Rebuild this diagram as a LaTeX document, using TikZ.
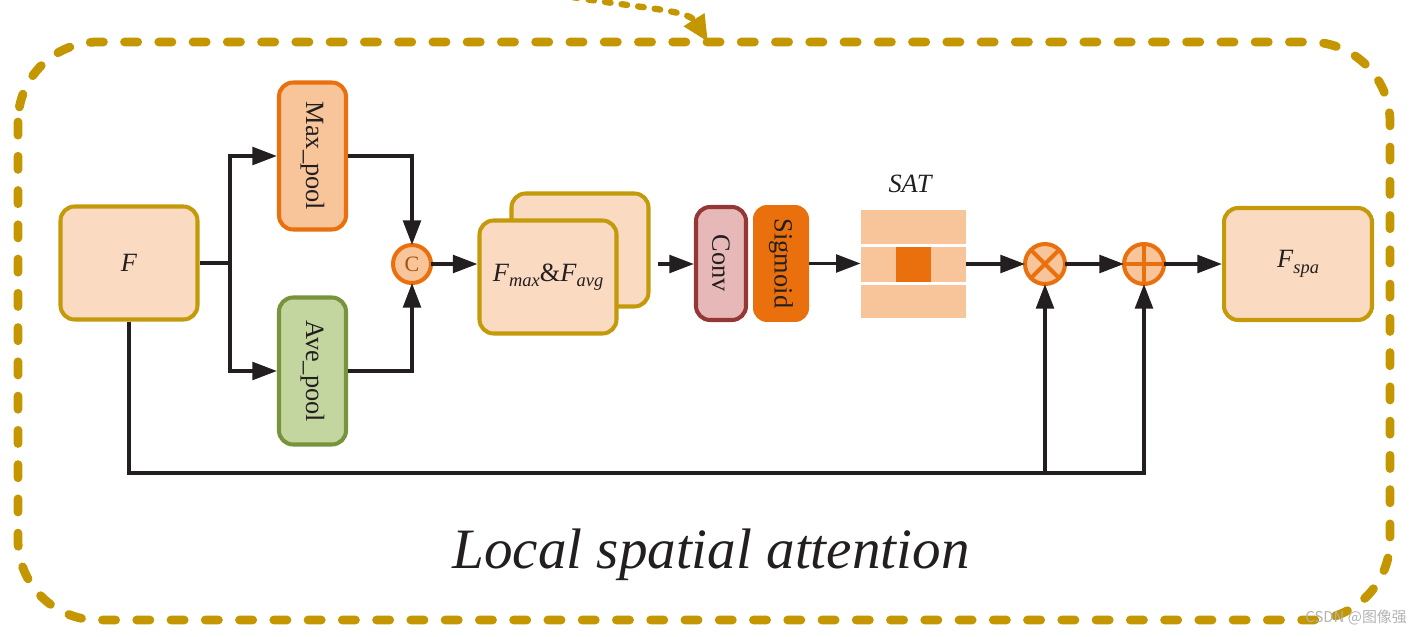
\documentclass[tikz,border=0pt]{standalone}
\usepackage{fontspec}
\setmainfont{Liberation Serif}
\newfontfamily\cjkfont{Noto Sans CJK SC}
\usetikzlibrary{arrows.meta}
\definecolor{gold}{HTML}{C49600}
\definecolor{boxgold}{HTML}{C49A0A}
\definecolor{peach}{HTML}{FADAC0}
\definecolor{lorange}{HTML}{F8C59B}
\definecolor{dorange}{HTML}{EA700E}
\definecolor{lgreen}{HTML}{C4D6A0}
\definecolor{dgreen}{HTML}{77933C}
\definecolor{lpink}{HTML}{E6B9B8}
\definecolor{dred}{HTML}{953735}
\definecolor{ink}{HTML}{231F20}
\definecolor{cbrown}{HTML}{A3520C}
\newcommand{\mysub}[1]{\raisebox{-0.45ex}{\fontsize{10.5}{10.5}\selectfont\itshape #1}}
\tikzset{
  fbox/.style={draw=boxgold, fill=peach, line width=2.3pt, rounded corners=0.28cm,
    minimum width=2.74cm, minimum height=2.26cm, inner sep=0pt, text=ink,
    font=\fontsize{15}{18}\selectfont},
  poolbox/.style={line width=2.3pt, rounded corners=0.28cm, rotate=-90,
    minimum width=2.94cm, minimum height=1.34cm, inner sep=0pt, text=ink,
    font=\fontsize{15}{18}\selectfont},
  opnode/.style={circle, draw=dorange, fill=lorange, line width=2.3pt,
    minimum size=0.8cm, inner sep=0pt, outer sep=0pt},
  arr/.style={draw=ink, line width=2.1pt, -{Triangle[length=14pt,width=10pt]}},
  ln/.style={draw=ink, line width=2.1pt},
}
\begin{document}
\begin{tikzpicture}[x=0.02cm,y=-0.02cm]
\useasboundingbox (0,0) rectangle (1427,636);
% outer dashed border
\draw[gold, line width=5pt, line cap=round, dash pattern=on 7.5pt off 12pt,
  rounded corners=1.6cm] (18,42) rectangle (1390,620);
% incoming dotted arrow
\coordinate (topin) at (572,-3);
\coordinate (topend) at (708,42);
\draw[gold, line width=3.6pt, line cap=round, dash pattern=on 3.2pt off 6.3pt,
  -{Triangle[length=15pt,width=13pt]}] (topin) .. controls (640,8) and (688,10) .. (topend);

% nodes
\node[fbox] (F) at (129,263) {\textit{F}};
\node[poolbox, draw=dorange, fill=lorange] (Max) at (312.5,156) {Max\_pool};
\node[poolbox, draw=dgreen, fill=lgreen] (Ave) at (312.5,371) {Ave\_pool};
\node[opnode, minimum size=0.76cm, text=cbrown, font=\fontsize{12.5}{14}\selectfont] (C) at (412,264) {C};
\node[fbox] (back) at (580,250) {};
\node[fbox] (front) at (548,277) {\textit{F}\mysub{max}\&\textit{F}\mysub{avg}};
\node[poolbox, draw=dred, fill=lpink, minimum width=2.26cm, minimum height=1.0cm] (Conv) at (721,263.5) {Conv};
\node[poolbox, fill=dorange, minimum width=2.34cm, minimum height=1.12cm, line width=0pt] (Sig) at (781,263.5) {Sigmoid};
% SAT
\node[minimum width=2.1cm, minimum height=2.16cm, inner sep=0pt] (SAT) at (913.5,264) {};
\fill[lorange] (861,210) rectangle (966,244);
\fill[lorange] (861,247) rectangle (966,282);
\fill[lorange] (861,285) rectangle (966,318);
\fill[dorange] (896,247) rectangle (931,282);
\node[text=ink, font=\fontsize{15}{18}\selectfont\itshape] (SATl) at (910,184) {SAT};
\node[opnode] (mul) at (1045,264) {};
\draw[dorange, line width=2.3pt] (mul.north west) -- (mul.south east) (mul.north east) -- (mul.south west);
\node[opnode] (add) at (1144,264) {};
\draw[dorange, line width=2.3pt] (add.north) -- (add.south) (add.west) -- (add.east);
\node[fbox, minimum width=2.96cm, minimum height=2.24cm] (Fspa) at (1298,264) {\textit{F}\mysub{spa}};

% connectors
\coordinate (j1) at (230,263);
\draw[ln] (F.east) -- (j1);
\draw[arr] (j1) |- (Max.south);
\draw[arr] (j1) |- (Ave.south);
\draw[arr] (Max.north) -| (C.north);
\draw[arr] (Ave.north) -| (C.south);
\draw[arr] (C.east) -- (C.east -| front.west);
\coordinate (s1) at (658,264);
\draw[arr] (s1) -- (s1 -| Conv.south);
\draw[arr] (Sig.north) -- (Sig.north -| SAT.west);
\draw[arr] (SAT.east) -- (mul.west);
\draw[arr] (mul.east) -- (add.west);
\draw[arr] (add.east) -- (Fspa.west);
\coordinate (b2) at (1144,473);
\coordinate (b1) at (1045,473);
\draw[arr] (F.south) |- (b2) -- (add.south);
\draw[arr] (b1) -- (mul.south);

% caption
\node[text=ink, font=\fontsize{32.5}{38}\selectfont\itshape] (cap) at (711,555) {Local spatial attention};
\node[text=black!30, font=\cjkfont\fontsize{8.5}{10}\selectfont, anchor=east] (wm) at (1413,618) {CSDN @图像强};
\end{tikzpicture}
\end{document}
